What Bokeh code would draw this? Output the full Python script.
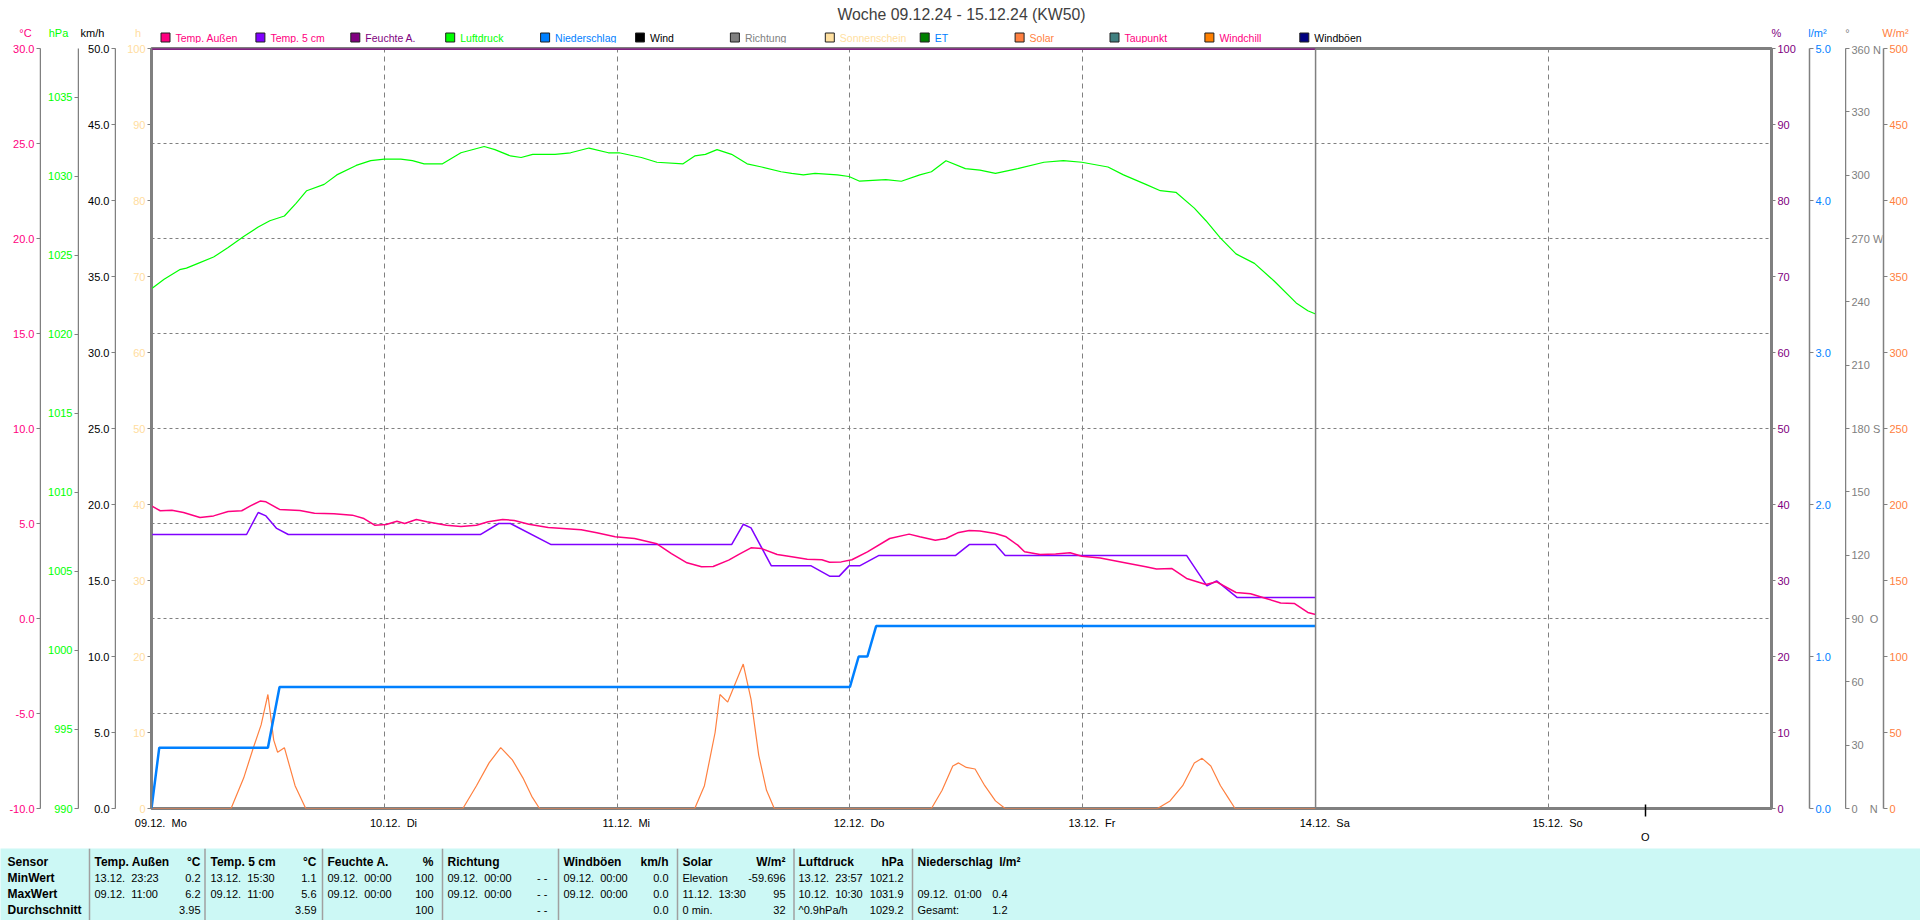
from bokeh.plotting import figure
from bokeh.models import (Range1d, LinearAxis, FixedTicker, NumeralTickFormatter, Grid, Span)
from bokeh.layouts import column, row
from bokeh.embed import file_html
from bokeh.resources import INLINE
from bokeh.core.properties import value

# ---------------- data (hours since 09.12.24 00:00) ----------------
title_text = "Woche 09.12.24 - 15.12.24 (KW50)"
day_ticks = [0, 24, 48, 72, 96, 120, 144]
day_labels = ["09.12.\u00a0 Mo", "10.12.\u00a0 Di", "11.12.\u00a0 Mi", "12.12.\u00a0 Do", "13.12.\u00a0 Fr",
              "14.12.\u00a0 Sa", "15.12.\u00a0 So"]

pressure_h = [0, 1.3, 2.9, 3.6, 4.8, 6.4, 7.9, 9.5, 11.0, 12.2, 13.7, 14.9, 16.0, 17.8, 19.1,
              21.1, 22.6, 24.0, 25.7, 26.9, 28.1, 30.0, 31.9, 34.3, 35.4, 37.0, 38.1, 39.3, 41.6, 43.2,
              45.1, 47.1, 48.2, 50.5, 52.1, 54.8, 56.0, 57.1, 58.3, 59.8, 61.4, 62.9, 64.9, 66.0, 67.2,
              68.4, 70.7, 71.9, 73.0, 75.7, 77.3, 79.2, 80.4, 81.9, 83.9, 85.4, 87.0, 89.3, 92.0, 94.0,
              95.9, 98.6, 100.2, 102.5, 104.0, 105.6, 107.5, 108.7, 110.2, 111.8, 113.7, 115.7, 118.0, 119.2, 120.0]
pressure = [1022.9, 1023.5, 1024.1, 1024.2, 1024.5, 1024.9, 1025.5, 1026.2, 1026.8, 1027.2, 1027.5, 1028.3, 1029.1, 1029.5, 1030.1,
            1030.7, 1031.0, 1031.1, 1031.1, 1031.0, 1030.8, 1030.8, 1031.5, 1031.9, 1031.7, 1031.3, 1031.2, 1031.4, 1031.4, 1031.5,
            1031.8, 1031.5, 1031.5, 1031.2, 1030.9, 1030.8, 1031.3, 1031.4, 1031.7, 1031.4, 1030.8, 1030.6, 1030.3, 1030.2, 1030.1,
            1030.2, 1030.1, 1030.0, 1029.7, 1029.8, 1029.7, 1030.1, 1030.3, 1031.0, 1030.5, 1030.4, 1030.2, 1030.5, 1030.9, 1031.0,
            1030.9, 1030.6, 1030.1, 1029.5, 1029.1, 1029.0, 1028.0, 1027.2, 1026.1, 1025.1, 1024.5, 1023.4, 1022.0, 1021.5, 1021.3]

temp_out_h = [0, 0.9, 2.1, 3.3, 5.0, 6.4, 7.9, 9.3, 10.2, 11.2, 11.8, 13.2, 15.3, 16.8, 18.8, 20.7, 21.9, 23.0, 24.2, 25.3,
              26.1, 27.3, 28.4, 30.4, 31.9, 33.5, 34.7, 36.2, 37.4, 38.9, 40.9, 44.3, 45.9, 47.8, 49.8, 52.1, 53.6, 55.2, 56.7, 57.9,
              59.5, 60.6, 61.8, 62.9, 64.5, 66.0, 67.6, 69.1, 69.9, 71.1, 72.2, 73.8, 76.1, 78.1, 79.2, 80.8, 81.9, 83.1, 84.3, 85.4,
              87.0, 88.1, 89.3, 90.0, 91.6, 93.2, 94.7, 95.9, 97.8, 100.2, 102.5, 103.6, 105.2, 106.7, 108.7, 109.8, 111.8, 113.3, 114.9, 116.4,
              117.8, 119.2, 120.0]
temp_out = [5.93, 5.67, 5.70, 5.58, 5.32, 5.40, 5.63, 5.67, 5.93, 6.18, 6.14, 5.74, 5.68, 5.54, 5.51, 5.44, 5.26, 4.91, 4.95, 5.12,
            5.00, 5.21, 5.09, 4.91, 4.84, 4.91, 5.09, 5.21, 5.16, 4.96, 4.79, 4.67, 4.51, 4.30, 4.21, 3.93, 3.42, 2.93, 2.72, 2.74,
            3.07, 3.39, 3.72, 3.68, 3.37, 3.25, 3.12, 3.09, 2.96, 2.98, 3.09, 3.51, 4.21, 4.44, 4.30, 4.12, 4.21, 4.51, 4.63, 4.61,
            4.47, 4.30, 3.86, 3.51, 3.37, 3.40, 3.46, 3.28, 3.19, 2.95, 2.72, 2.60, 2.63, 2.11, 1.79, 1.93, 1.37, 1.30, 1.05, 0.82,
            0.79, 0.32, 0.21]

temp_5cm_h = [0, 9.8, 11.0, 11.8, 12.9, 14.1, 33.9, 35.8, 37.0, 41.2, 59.8, 61.0, 61.8, 63.9, 68.0, 69.9, 70.9, 71.9, 73.0,
              75.0, 82.9, 84.3, 87.0, 88.0, 106.7, 108.8, 109.8, 111.9, 120.0]
temp_5cm = [4.42, 4.42, 5.58, 5.40, 4.74, 4.42, 4.42, 5.00, 5.00, 3.89, 3.89, 4.96, 4.77, 2.77, 2.77, 2.23, 2.23, 2.77, 2.77,
            3.32, 3.32, 3.89, 3.89, 3.32, 3.32, 1.72, 1.98, 1.11, 1.11]

humidity_h = [0, 120]
humidity = [100, 100]

rain_h = [0, 0.8, 12.0, 13.2, 72.0, 72.9, 73.8, 74.7, 120.0]
rain = [0.0, 0.4, 0.4, 0.8, 0.8, 1.0, 1.0, 1.2, 1.2]

solar_h = [0, 8.2, 9.5, 10.5, 11.3, 12.0, 12.6, 13.0, 13.7, 14.8, 15.9, 32.1, 33.5, 34.8, 36.0, 37.2, 38.3, 39.2, 40.0,
           56.0, 57.0, 58.1, 58.6, 59.4, 61.0, 61.8, 62.6, 63.4, 64.2, 80.4, 81.5, 82.6, 83.2, 84.0, 84.9, 85.9, 87.0, 88.0,
           103.7, 105.0, 106.3, 107.5, 108.3, 109.2, 110.2, 111.0, 111.7, 120.0]
solar = [0, 0, 20, 40, 55, 75, 45, 37, 40, 15, 0, 0, 15, 30, 40, 32, 20, 8, 0,
         0, 15, 50, 75, 70, 95, 72, 35, 12, 0, 0, 12, 28, 30, 27, 26, 15, 5, 0,
         0, 5, 15, 30, 33, 28, 15, 7, 0, 0]

now_h = 120
wind_dir_marker_h = 154
wind_dir_marker_label = "O"

legend_names = ["Temp. Außen", "Temp. 5 cm", "Feuchte A.", "Luftdruck", "Niederschlag", "Wind", "Richtung",
                "Sonnenschein", "ET", "Solar", "Taupunkt", "Windchill", "Windböen"]
legend_box_colors = ["#FF0080", "#8000FF", "#800080", "#00FF00", "#0080FF", "#000000", "#808080",
                     "#FFE0A0", "#008000", "#FF8040", "#408080", "#FF8000", "#000080"]
legend_text_colors = ["#FF0080", "#FF0080", "#800080", "#00FF00", "#0080FF", "#000000", "#808080",
                      "#FFE0A0", "#0080FF", "#FF8040", "#FF0080", "#FF0080", "#000000"]

unit_texts = ["°C", "hPa", "km/h", "h", "%", "l/m²", "°", "W/m²"]
unit_colors = ["#FF0080", "#00FF00", "#000000", "#FFDDA0", "#800080", "#0080FF", "#808080", "#FF8040"]

# stats table
tbl_headers = ["Temp. Außen", "Temp. 5 cm", "Feuchte A.", "Richtung", "Windböen", "Solar", "Luftdruck", "Niederschlag"]
tbl_units = ["°C", "°C", "%", "", "km/h", "W/m²", "hPa", "l/m²"]
tbl_row_names = ["Sensor", "MinWert", "MaxWert", "Durchschnitt"]
tbl_min_txt = ["13.12.\u00a0 23:23", "13.12.\u00a0 15:30", "09.12.\u00a0 00:00", "09.12.\u00a0 00:00", "09.12.\u00a0 00:00",
               "Elevation", "13.12.\u00a0 23:57", ""]
tbl_min_val = ["0.2", "1.1", "100", "- -", "0.0", "-59.696", "1021.2", ""]
tbl_max_txt = ["09.12.\u00a0 11:00", "09.12.\u00a0 11:00", "09.12.\u00a0 00:00", "09.12.\u00a0 00:00", "09.12.\u00a0 00:00",
               "11.12.\u00a0 13:30", "10.12.\u00a0 10:30", "09.12.\u00a0 01:00"]
tbl_max_val = ["6.2", "5.6", "100", "- -", "0.0", "95", "1031.9", "0.4"]
tbl_avg_txt = ["", "", "", "", "", "0 min.", "^0.9hPa/h", "Gesamt:"]
tbl_avg_val = ["3.95", "3.59", "100", "- -", "0.0", "32", "1029.2", "1.2"]

# ---------------- layout constants (page pixels) ----------------
GRAY = "#808080"
FONT = "Liberation Sans"
W = 1920
HEAD_H = 43
ROW_H = 805
TBL_H = 72
BT, BB = 5, 40           # frame: y 48 .. 808
X_END = 167.0
LABEL_SHIFT = "\u00a0" * 6   # day labels sit a little right of their grid line


def no_align(f):
    if "frame_align" in f.properties():
        f.frame_align = False
    return f


# ---------------- header (title, units, legend) ----------------
hd = figure(width=W, height=HEAD_H, x_range=Range1d(0, W), y_range=Range1d(HEAD_H, 0), toolbar_location=None,
            output_backend="svg", min_border=0, x_axis_location=None, y_axis_location=None)
no_align(hd)
hd.grid.visible = False
hd.outline_line_color = None
hd.text(x=[961], y=[14], text=[title_text], text_font=value(FONT), text_font_size="15.8px",
        text_color="#404040", text_align="center", text_baseline="middle")
unit_x = [25, 58, 92, 137.5, 1776, 1817, 1847, 1895]
hd.text(x=unit_x, y=[32.5] * len(unit_x), text=unit_texts, text_color=unit_colors, text_font=value(FONT),
        text_font_size="11px", text_align="center", text_baseline="middle")
leg_cx = [165 + i * 94.9 for i in range(len(legend_names))]
hd.rect(x=leg_cx, y=[37] * len(leg_cx), width=9, height=9, fill_color=legend_box_colors,
        line_color="#202020", line_width=1)
hd.text(x=[c + 10 for c in leg_cx], y=[37] * len(leg_cx), text=legend_names, text_color=legend_text_colors,
        text_font=value(FONT), text_font_size="10.5px", text_align="left", text_baseline="middle")


# ---------------- axes ----------------
def style_axis(ax, color, overrides=None):
    ax.axis_line_color = GRAY
    ax.axis_line_width = 1.5
    ax.major_tick_line_color = GRAY
    ax.minor_tick_line_color = None
    ax.major_tick_out = 4
    ax.minor_tick_out = 0
    ax.major_tick_in = 0
    ax.major_label_standoff = 2
    ax.major_label_text_color = color
    ax.major_label_text_font = FONT
    ax.major_label_text_font_size = "11px"
    if overrides:
        ax.major_label_overrides = overrides
    return ax


def axis_fig(width, rng, ticks, color, fmt, side, overrides=None):
    """A narrow figure holding a single axis whose line sits on its 1-px frame."""
    f = figure(width=width, height=ROW_H, x_range=Range1d(0, 1), y_range=Range1d(*rng),
               toolbar_location=None, output_backend="svg", x_axis_location=None, y_axis_location=None,
               min_border_top=BT, min_border_bottom=BB,
               min_border_left=(width - 1) if side == "left" else 0,
               min_border_right=(width - 1) if side == "right" else 0)
    no_align(f)
    f.grid.visible = False
    f.outline_line_color = None
    ax = LinearAxis(ticker=FixedTicker(ticks=ticks), formatter=NumeralTickFormatter(format=fmt))
    style_axis(ax, color, overrides)
    f.add_layout(ax, side)
    return f


f_degc = axis_fig(41, (-10, 30), list(range(-10, 31, 5)), "#FF0080", "0.0", "left")
f_hpa = axis_fig(38, (990, 1038.1), list(range(990, 1036, 5)), "#00FF00", "0", "left")
f_kmh = axis_fig(37, (0, 50), list(range(0, 51, 5)), "#000000", "0.0", "left")
f_lm2 = axis_fig(37, (0, 5), [0, 1, 2, 3, 4, 5], "#0080FF", "0.0", "right")
f_deg = axis_fig(37, (0, 360), list(range(0, 361, 30)), GRAY, "0", "right",
                 {0: "0\u00a0\u00a0\u00a0\u00a0N", 90: "90\u00a0\u00a0O", 180: "180\u00a0S",
                  270: "270\u00a0W", 360: "360\u00a0N"})
f_wm2 = axis_fig(38, (0, 500), list(range(0, 501, 50)), "#FF8040", "0", "right")

# ---------------- main chart ----------------
ML, MR = 35, 37
MW = W - (41 + 38 + 37) - (37 + 37 + 38)   # 1692 -> frame 1620 px wide
p = figure(width=MW, height=ROW_H, x_range=Range1d(0, X_END), y_range=Range1d(-10, 30),
           x_axis_location=None, y_axis_location=None, toolbar_location=None, output_backend="svg",
           min_border_left=ML, min_border_right=MR, min_border_top=BT, min_border_bottom=BB)
no_align(p)
p.grid.visible = False
p.outline_line_color = GRAY
p.outline_line_width = 3
p.extra_y_ranges = {"hpa": Range1d(990, 1038.1), "h": Range1d(0, 100), "pct": Range1d(0, 100),
                    "lm2": Range1d(0, 5), "wm2": Range1d(0, 500)}

ax_h = LinearAxis(y_range_name="h", ticker=FixedTicker(ticks=list(range(0, 101, 10))),
                  formatter=NumeralTickFormatter(format="0"))
style_axis(ax_h, "#FFDDA0")
p.add_layout(ax_h, "left")
ax_pct = LinearAxis(y_range_name="pct", ticker=FixedTicker(ticks=list(range(0, 101, 10))),
                    formatter=NumeralTickFormatter(format="0"))
style_axis(ax_pct, "#800080")
p.add_layout(ax_pct, "right")

# small tick for the mean wind direction (adjacent to the frame)
tick_ax = LinearAxis(ticker=FixedTicker(ticks=[wind_dir_marker_h]),
                     major_label_overrides={wind_dir_marker_h: "\u00a0"})
tick_ax.axis_line_color = None
tick_ax.major_tick_line_color = "#000000"
tick_ax.major_tick_line_width = 1.5
tick_ax.minor_tick_line_color = None
tick_ax.major_tick_in = 4
tick_ax.major_tick_out = 8
tick_ax.minor_tick_out = 0
tick_ax.major_label_standoff = 0
tick_ax.major_label_text_font_size = "1px"
tick_ax.major_label_text_alpha = 0
p.add_layout(tick_ax, "below")

# day labels (+ wind direction letter on a second line)
xl_ticks = day_ticks + [wind_dir_marker_h]
xl_labels = [LABEL_SHIFT + d for d in day_labels] + ["\n" + wind_dir_marker_label]
xax = LinearAxis(ticker=FixedTicker(ticks=xl_ticks),
                 major_label_overrides={tk: lb for tk, lb in zip(xl_ticks, xl_labels)})
xax.axis_line_color = None
xax.major_tick_line_color = None
xax.minor_tick_line_color = None
xax.major_tick_out = 0
xax.minor_tick_out = 0
xax.major_tick_in = 0
xax.major_label_standoff = 0
xax.major_label_text_font = FONT
xax.major_label_text_font_size = "11px"
xax.major_label_text_color = "#000000"
p.add_layout(xax, "below")

# grids
p.add_layout(Grid(dimension=1, ticker=FixedTicker(ticks=[-5, 0, 5, 10, 15, 20, 25]),
                  grid_line_color=GRAY, grid_line_dash="3 3", grid_line_width=1))
p.add_layout(Grid(dimension=0, ticker=FixedTicker(ticks=day_ticks[1:]),
                  grid_line_color=GRAY, grid_line_dash="5 4", grid_line_width=1))
p.add_layout(Span(location=now_h, dimension="height", line_color=GRAY, line_width=1.5))

# series
p.line(solar_h, solar, y_range_name="wm2", line_color="#FF8040", line_width=1.2)
p.line(rain_h, rain, y_range_name="lm2", line_color="#0080FF", line_width=2.5)
p.line(pressure_h, pressure, y_range_name="hpa", line_color="#00FF00", line_width=1.2)
p.line(temp_5cm_h, temp_5cm, line_color="#8000FF", line_width=1.5)
p.line(temp_out_h, temp_out, line_color="#FF0080", line_width=1.5)
p.line(humidity_h, humidity, y_range_name="pct", line_color="#800080", line_width=2.5)

# ---------------- statistics table ----------------
CYAN = "#CCF8F5"
t = figure(width=W, height=TBL_H, x_range=Range1d(0, W), y_range=Range1d(TBL_H, 0), toolbar_location=None,
           output_backend="svg", min_border=0, x_axis_location=None, y_axis_location=None)
no_align(t)
t.grid.visible = False
t.outline_line_color = None
t.background_fill_color = CYAN
t.border_fill_color = CYAN

seps = [89, 204.5, 322, 442, 558, 677, 793.5, 912]
t.segment(x0=seps, y0=[0] * len(seps), x1=seps, y1=[TBL_H] * len(seps), line_color="#A0A0A0", line_width=1.5)
col_left = [94, 210, 327, 447, 563, 682, 798, 917]
col_right = [200, 316, 433, 547, 668, 785, 903, 1007]
unit_right = [200, 316, 433, 547, 668, 785, 903, 1020]
rows_y = [13, 29, 45, 61]

t.text(x=[7] * 4, y=rows_y, text=tbl_row_names, text_font=value(FONT), text_font_style="bold",
       text_font_size="12px", text_baseline="middle", text_align="left", text_color="#000000")
t.text(x=col_left, y=[rows_y[0]] * 8, text=tbl_headers, text_font=value(FONT), text_font_style="bold",
       text_font_size="12px", text_baseline="middle", text_align="left", text_color="#000000")
t.text(x=unit_right, y=[rows_y[0]] * 8, text=tbl_units, text_font=value(FONT), text_font_style="bold",
       text_font_size="12px", text_baseline="middle", text_align="right", text_color="#000000")
for ry, txts, vals in [(rows_y[1], tbl_min_txt, tbl_min_val), (rows_y[2], tbl_max_txt, tbl_max_val),
                       (rows_y[3], tbl_avg_txt, tbl_avg_val)]:
    t.text(x=col_left, y=[ry] * 8, text=txts, text_font=value(FONT), text_font_size="11px",
           text_baseline="middle", text_align="left", text_color="#000000")
    t.text(x=col_right, y=[ry] * 8, text=vals, text_font=value(FONT), text_font_size="11px",
           text_baseline="middle", text_align="right", text_color="#000000")

chart_row = row(f_degc, f_hpa, f_kmh, p, f_lm2, f_deg, f_wm2, spacing=0)
layout = column(hd, chart_row, t, spacing=0)
open("out.html", "w").write(file_html(layout, INLINE))
